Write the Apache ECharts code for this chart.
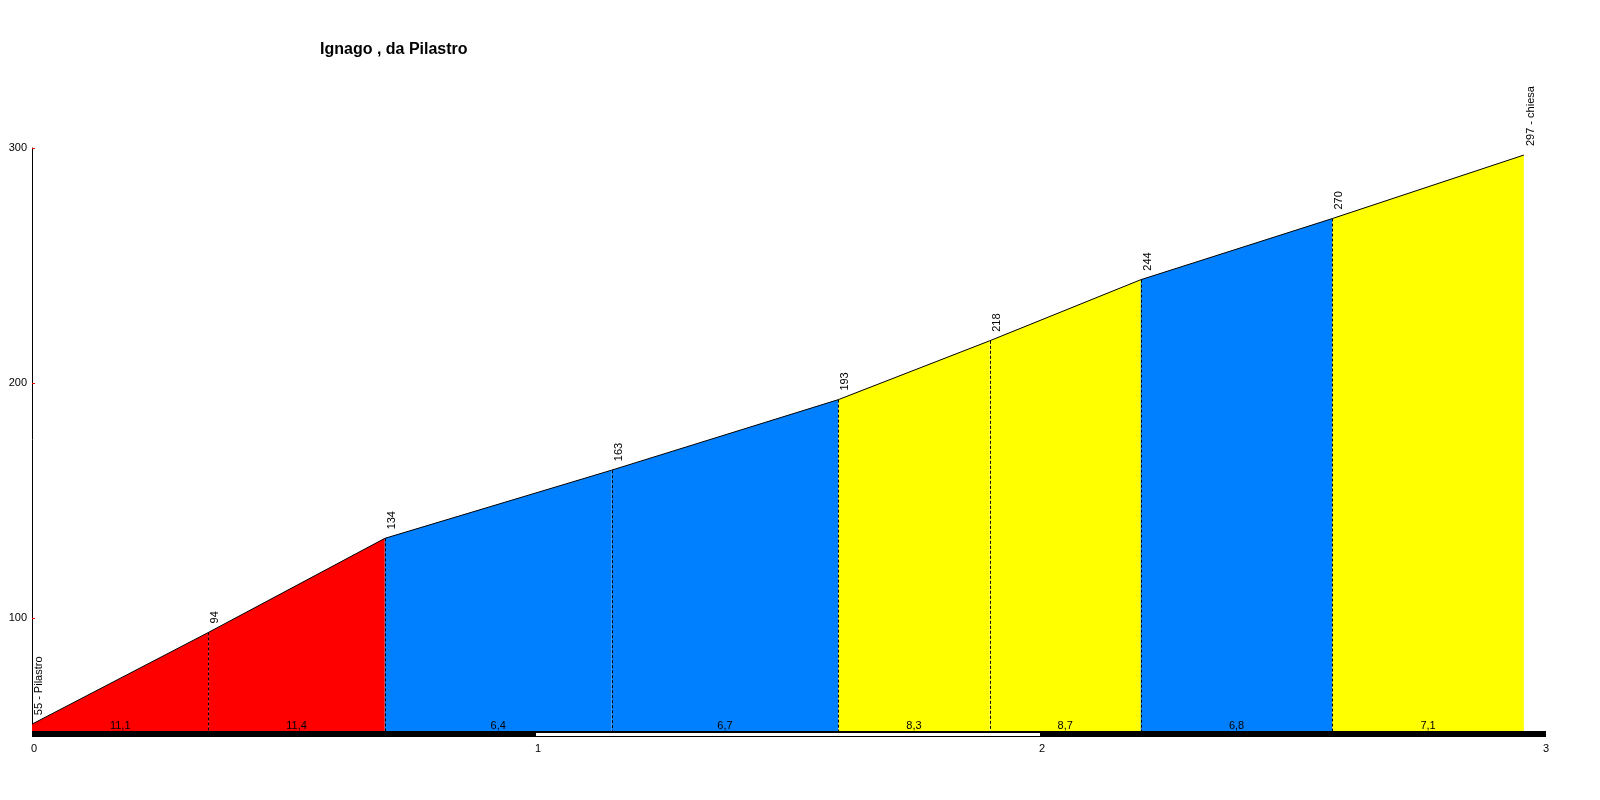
<!DOCTYPE html>
<html>
<head>
<meta charset="utf-8">
<script src="https://cdn.jsdelivr.net/npm/echarts@6/dist/echarts.min.js"></script>
<style>html,body{margin:0;padding:0;background:#fff;}#c{width:1600px;height:800px;}</style>
</head>
<body>
<div id="c"></div>
<script>
// ---- data ----
const titleText = 'Ignago , da Pilastro';
const km = [0, 0.35, 0.70, 1.15, 1.60, 1.90, 2.20, 2.58, 2.96];
const elev = [55, 94, 134, 163, 193, 218, 244, 270, 297];
const pointNames = ['Pilastro', '', '', '', '', '', '', '', 'chiesa'];
const gradients = ['11,1', '11,4', '6,4', '6,7', '8,3', '8,7', '6,8', '7,1'];
const xTicks = [0, 1, 2, 3];
const yTicks = [100, 200, 300];
const bandStart = [0, 1, 2];
const bandEnd = [1, 2, 3];

const FONT = '"Liberation Sans", Arial, sans-serif';
const Y_MIN = 52, Y_MAX = 300;

function gradColor(g) {
  const v = parseFloat(g.replace(',', '.'));
  if (v >= 10) return '#FF0000';
  if (v >= 7) return '#FFFF00';
  return '#0080FF';
}

const segData = gradients.map((g, i) => [km[i], elev[i], km[i + 1], elev[i + 1], i]);
const pointData = km.map((k, i) => [k, elev[i], i]);
const bandData = bandStart.map((s, i) => [s, bandEnd[i], i]);

const chart = echarts.init(document.getElementById('c'));
chart.setOption({
  animation: false,
  backgroundColor: '#ffffff',
  title: {
    text: titleText, left: 315, top: 37,
    textStyle: { fontFamily: FONT, fontSize: 16, fontWeight: 'bold', color: '#000' }
  },
  grid: { left: 32, right: 56, top: 148, bottom: 68.8 },
  xAxis: {
    type: 'value', min: 0, max: 3,
    axisLine: { show: false },
    axisTick: { show: false },
    splitLine: { show: false },
    axisLabel: {
      customValues: xTicks, margin: 12,
      fontFamily: FONT, fontSize: 11, color: '#000',
      padding: [0, 0, 0, 4],
      formatter: v => String(v)
    }
  },
  yAxis: {
    type: 'value', min: Y_MIN, max: Y_MAX,
    axisLine: { show: true, onZero: false, lineStyle: { color: '#000', width: 1 } },
    axisTick: { show: true, inside: true, length: 3, customValues: yTicks, lineStyle: { color: '#FF0000', width: 1 } },
    splitLine: { show: false },
    axisLabel: {
      customValues: yTicks, margin: 5,
      fontFamily: FONT, fontSize: 11, color: '#000'
    }
  },
  series: [
    {
      // coloured gradient segments
      type: 'custom', z: 1,
      data: segData,
      renderItem: (params, api) => {
        const x0 = api.value(0), y0 = api.value(1), x1 = api.value(2), y1 = api.value(3);
        const i = api.value(4);
        const pts = [api.coord([x0, Y_MIN]), api.coord([x0, y0]), api.coord([x1, y1]), api.coord([x1, Y_MIN])];
        return {
          type: 'polygon',
          shape: { points: pts },
          style: { fill: gradColor(gradients[i]), stroke: null }
        };
      }
    },
    {
      // dashed verticals at intermediate points
      type: 'custom', z: 3,
      data: pointData.slice(1, pointData.length - 1),
      renderItem: (params, api) => {
        const a = api.coord([api.value(0), api.value(1)]);
        const b = api.coord([api.value(0), Y_MIN]);
        return {
          type: 'line',
          shape: { x1: Math.round(a[0]) + 0.5, y1: a[1], x2: Math.round(a[0]) + 0.5, y2: b[1] },
          style: { stroke: '#000', lineWidth: 1, lineDash: [3, 2] }
        };
      }
    },
    {
      // profile outline
      type: 'line', z: 4,
      data: pointData.map(p => [p[0], p[1]]),
      symbol: 'none',
      lineStyle: { color: '#000', width: 1 },
      silent: true
    },
    {
      // elevation labels
      type: 'custom', z: 5,
      data: pointData,
      renderItem: (params, api) => {
        const i = api.value(2);
        const p = api.coord([api.value(0), api.value(1)]);
        const txt = pointNames[i] ? (elev[i] + ' - ' + pointNames[i]) : String(elev[i]);
        return {
          type: 'text',
          x: p[0] + 7, y: p[1] - 9,
          rotation: Math.PI / 2,
          style: { text: txt, fontFamily: FONT, fontSize: 11, fill: '#000', align: 'left', verticalAlign: 'middle' }
        };
      }
    },
    {
      // gradient labels
      type: 'custom', z: 5,
      data: segData,
      renderItem: (params, api) => {
        const i = api.value(4);
        const p = api.coord([(api.value(0) + api.value(2)) / 2, Y_MIN]);
        return {
          type: 'text',
          x: p[0], y: p[1] - 5,
          style: { text: gradients[i], fontFamily: FONT, fontSize: 11, fill: '#000', align: 'center', verticalAlign: 'middle' }
        };
      }
    },
    {
      // distance band (black / white km bars)
      type: 'custom', z: 6, clip: false,
      data: bandData,
      renderItem: (params, api) => {
        const i = api.value(2);
        const a = api.coord([api.value(0), Y_MIN]);
        const b = api.coord([api.value(1), Y_MIN]);
        const y = Math.round(a[1]);
        const children = [{
          type: 'rect',
          shape: { x: a[0], y: y, width: b[0] - a[0] + (i === bandData.length - 1 ? 2 : 0), height: 6 },
          style: { fill: '#000' }
        }];
        if (i % 2 === 1) {
          children.push({
            type: 'rect',
            shape: { x: a[0], y: y + 2, width: b[0] - a[0], height: 3 },
            style: { fill: '#fff' }
          });
        }
        return { type: 'group', children: children };
      }
    }
  ]
});
</script>
</body>
</html>
